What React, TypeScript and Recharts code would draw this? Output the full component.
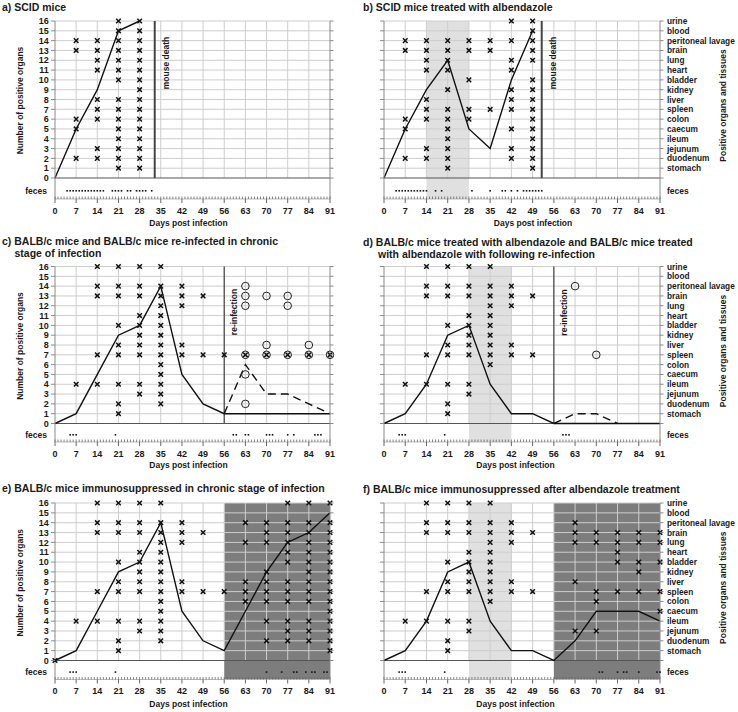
import React from 'react'
import { ComposedChart, Line, Scatter, XAxis, YAxis, ReferenceLine, ReferenceArea } from 'recharts'

const ORGANS = ['stomach', 'duodenum', 'jejunum', 'ileum', 'caecum', 'colon', 'spleen', 'liver', 'kidney', 'bladder', 'heart', 'lung', 'brain', 'peritoneal lavage', 'blood', 'urine']
const DAY_LABELS = [0, 7, 14, 21, 28, 35, 42, 49, 56, 63, 70, 77, 84, 91]
const Y_TICKS = [0, 1, 2, 3, 4, 5, 6, 7, 8, 9, 10, 11, 12, 13, 14, 15, 16]
const ALL_DAYS = Array.from({ length: 92 }, (_, i) => i)

// a) SCID mice
const A_LINE = [[0, 0], [7, 5], [14, 9], [21, 15], [28, 16]]
const A_CROSSES = [
  [7, [2, 5, 6, 13, 14]],
  [14, [2, 3, 6, 7, 8, 11, 12, 13, 14]],
  [21, [1, 2, 3, 4, 5, 6, 7, 8, 10, 11, 12, 13, 14, 15, 16]],
  [28, [1, 2, 3, 4, 5, 6, 7, 8, 9, 10, 11, 12, 13, 14, 15, 16]],
]
const A_FECES = [4, 5, 6, 7, 8, 9, 10, 11, 12, 13, 14, 15, 16, 19, 20, 21, 22, 24, 25, 27, 28, 29, 30, 32]
const A_DEATH = 33

// b) SCID mice treated with albendazole
const B_LINE = [[0, 0], [7, 5], [14, 9], [21, 12], [28, 5], [35, 3], [42, 10], [49, 15]]
const B_CROSSES = [
  [7, [2, 5, 6, 13, 14]],
  [14, [2, 3, 6, 7, 8, 11, 12, 13, 14]],
  [21, [1, 2, 3, 4, 5, 6, 7, 9, 11, 12, 13, 14]],
  [28, [6, 7, 10, 13, 14]],
  [35, [7, 13, 14]],
  [42, [2, 3, 5, 7, 8, 9, 11, 12, 14, 16]],
  [49, [1, 2, 3, 4, 5, 6, 7, 8, 9, 10, 12, 13, 14, 15, 16]],
]
const B_FECES = [4, 5, 6, 7, 8, 9, 10, 11, 12, 13, 14, 17, 19, 29, 35, 39, 40, 42, 44, 46, 47, 48, 49, 50, 51, 52]
const B_TREATMENT = [14, 28]
const B_DEATH = 52

// c) BALB/c and re-infected BALB/c
const C_LINE = [[0, 0], [7, 1], [14, 5], [21, 9], [28, 10], [35, 14], [42, 5], [49, 2], [56, 1], [91, 1]]
const C_REINF_LINE = [[56, 1], [63, 6], [70, 3], [77, 3], [84, 2], [91, 1]]
const C_CROSSES = [
  [7, [4]],
  [14, [4, 7, 13, 14, 16]],
  [21, [1, 2, 4, 7, 8, 10, 13, 14, 16]],
  [28, [3, 4, 7, 8, 9, 10, 11, 13, 14, 16]],
  [35, [2, 3, 4, 5, 6, 7, 8, 9, 10, 11, 12, 13, 14, 16]],
  [42, [7, 8, 12, 13, 14]],
  [49, [7, 13]],
  [56, [7]],
  [63, [7]],
  [70, [7]],
  [77, [7]],
  [84, [7]],
  [91, [7]],
]
const C_CIRCLES = [[63, [2, 5, 7, 12, 13, 14]], [70, [7, 8, 13]], [77, [7, 12, 13]], [84, [7, 8]], [91, [7]]]
const C_FECES = [5, 6, 7, 20, 59, 60, 63, 64, 70, 71, 72, 77, 79, 86, 87, 88]
const C_REINFECTION = 56

// d) albendazole, then re-infection
const D_LINE = [[0, 0], [7, 1], [14, 4], [21, 9], [28, 10], [35, 4], [42, 1], [49, 1], [56, 0], [91, 0]]
const D_REINF_LINE = [[56, 0], [63, 1], [70, 1], [77, 0]]
const D_CROSSES = [
  [7, [4]],
  [14, [4, 7, 13, 14, 16]],
  [21, [1, 2, 4, 7, 8, 10, 13, 14, 16]],
  [28, [3, 4, 7, 8, 9, 10, 11, 13, 14, 16]],
  [35, [6, 7, 8, 9, 10, 11, 12, 13, 14, 16]],
  [42, [7, 8, 12, 13, 14]],
  [49, [7, 13]],
]
const D_CIRCLES = [[63, [14]], [70, [7]]]
const D_FECES = [5, 6, 7, 20, 59, 60, 61]
const D_TREATMENT = [28, 42]
const D_REINFECTION = 56

// e) immunosuppressed in chronic stage
const E_LINE = [[0, 0], [7, 1], [14, 5], [21, 9], [28, 10], [35, 14], [42, 5], [49, 2], [56, 1], [63, 5], [70, 9], [77, 12], [84, 13], [91, 15]]
const E_CROSSES = [
  [0, [0]],
  [7, [4]],
  [14, [4, 7, 13, 14, 16]],
  [21, [1, 2, 4, 7, 8, 10, 13, 14, 16]],
  [28, [3, 4, 7, 8, 9, 10, 11, 13, 14, 16]],
  [35, [2, 3, 4, 5, 6, 7, 8, 9, 10, 11, 12, 13, 14, 16]],
  [42, [7, 8, 12, 13, 14]],
  [49, [7, 13]],
  [56, [7]],
  [63, [6, 7, 8, 12, 14]],
  [70, [2, 4, 6, 7, 8, 9, 12, 13, 14]],
  [77, [2, 3, 4, 6, 7, 8, 10, 11, 12, 13, 14, 16]],
  [84, [2, 3, 4, 6, 7, 8, 9, 10, 11, 12, 13, 14, 16]],
  [91, [1, 2, 3, 4, 5, 6, 7, 8, 9, 10, 11, 12, 13, 14, 16]],
]
const E_FECES = [5, 6, 7, 20, 70, 75, 79, 80, 83, 85, 86, 89, 90]
const E_SUPPRESSION = [56, 91]

// f) immunosuppressed after albendazole
const F_LINE = [[0, 0], [7, 1], [14, 4], [21, 9], [28, 10], [35, 4], [42, 1], [49, 1], [56, 0], [63, 2], [70, 5], [77, 5], [84, 5], [91, 4]]
const F_CROSSES = [
  [7, [4]],
  [14, [4, 7, 13, 14, 16]],
  [21, [1, 2, 4, 7, 8, 10, 13, 14, 16]],
  [28, [3, 4, 7, 8, 9, 10, 11, 13, 14, 16]],
  [35, [6, 7, 8, 9, 10, 11, 12, 13, 14, 16]],
  [42, [7, 8, 12, 13, 14]],
  [49, [7, 13]],
  [63, [3, 8, 12, 13, 14]],
  [70, [3, 6, 7, 12, 13]],
  [77, [7, 10, 11, 12, 13]],
  [84, [7, 9, 10, 12, 13]],
  [91, [5, 7, 10, 12, 13]],
]
const F_FECES = [5, 6, 7, 20, 71, 72, 77, 79, 80, 84, 90, 91]
const F_TREATMENT = [28, 42]
const F_SUPPRESSION = [56, 91]

// row geometry (page px): chart top, y of 16, y of 0, y of day axis, x-axis height
const ROW1 = { ctop: 0, top: 21, zero: 178, axis: 199, xh: 27 }
const ROW2 = { ctop: 235, top: 266.5, zero: 423.5, axis: 442, xh: 26 }
const ROW3 = { ctop: 470, top: 503, zero: 660.5, axis: 679.5, xh: 27 }

const FONT = "'Liberation Sans', Arial, Helvetica, sans-serif"
const INK = '#1a1a1a'
const GRID = '#cdcdcd'

function DayTick(props: any) {
  const { x, y, payload } = props
  const d = payload.value
  const major = DAY_LABELS.includes(d)
  return (
    <g>
      <line x1={x} x2={x} y1={y - 2.5} y2={y} stroke="#666" strokeWidth={0.8} />
      {major && <line x1={x} x2={x} y1={y} y2={y + 4} stroke="#666" />}
      {major && (
        <text x={x} y={y + 14.5} textAnchor="middle" fontSize={9} fontWeight={700} fill={INK}>
          {d}
        </text>
      )}
    </g>
  )
}

function LeftTick(props: any) {
  const { x, y, payload, showLabels } = props
  const v = payload.value
  if (v < 0) {
    return showLabels ? (
      <text x={x - 8} y={y + 3} textAnchor="end" fontSize={8.5} fontWeight={700} fill={INK}>feces</text>
    ) : <g />
  }
  return (
    <g>
      <line x1={x - 4} x2={x} y1={y} y2={y} stroke="#8a8a8a" />
      {showLabels && (
        <text x={x - 6.3} y={y + 3.2} textAnchor="end" fontSize={9} fontWeight={700} fill={INK}>{v}</text>
      )}
    </g>
  )
}

function RightTick(props: any) {
  const { x, y, payload, showLabels } = props
  const v = payload.value
  if (v < 0) {
    return showLabels ? (
      <text x={x + 7} y={y + 3} textAnchor="start" fontSize={8.5} fontWeight={700} fill={INK}>feces</text>
    ) : <g />
  }
  return (
    <g>
      <line x1={x} x2={x + 3.5} y1={y} y2={y} stroke="#8a8a8a" />
      {showLabels && v > 0 && (
        <text x={x + 7} y={y + 3} textAnchor="start" fontSize={8.3} fontWeight={700} fill={INK}>{ORGANS[v - 1]}</text>
      )}
    </g>
  )
}

function RotatedTitle(props: any) {
  const { viewBox, caption, ox, oy } = props
  if (!viewBox) return null
  const cx = viewBox.x + ox
  const cy = viewBox.y + oy
  return (
    <text x={cx} y={cy} transform={`rotate(-90 ${cx} ${cy})`} textAnchor="middle" dominantBaseline="central"
      fontSize={8.5} fontWeight={700} fill={INK}>
      {caption}
    </text>
  )
}

const Cross = (p: any) => (
  <path d={`M${p.cx - 2.3},${p.cy - 2.3}L${p.cx + 2.3},${p.cy + 2.3}M${p.cx + 2.3},${p.cy - 2.3}L${p.cx - 2.3},${p.cy + 2.3}`}
    stroke="#111" strokeWidth={1.5} fill="none" />
)
const Ring = (p: any) => <circle cx={p.cx} cy={p.cy} r={3.8} fill="none" stroke="#222" strokeWidth={1} />
const Dot = (p: any) => <rect x={p.cx - 0.8} y={p.cy - 0.8} width={1.6} height={1.6} fill="#111" />

const toXY = (arr: number[][]) => arr.map(([x, y]) => ({ x, y }))
const spread = (list: any[]) => list.flatMap(([d, os]: any) => os.map((o: number) => ({ x: d, y: o })))

function Panel(p: any) {
  const { row, side, left } = p
  const isLeft = side === 'left'
  const unit = (row.zero - row.top) / 16
  const yMin = -(row.axis - row.zero) / unit
  const fecesY = yMin * 0.61
  const height = row.axis - row.ctop + row.xh + 5
  const mainMid = (row.zero - row.top) / 2
  return (
    <div style={{ position: 'absolute', left, top: row.ctop }}>
      <ComposedChart width={369} height={height} margin={{ top: row.top - row.ctop, right: 0, bottom: 5, left: 0 }}>
        <XAxis type="number" dataKey="x" domain={[0, 91]} ticks={ALL_DAYS} interval={0} tickSize={0} tickMargin={0}
          height={row.xh} axisLine={{ stroke: '#bbb' }} tickLine={false} tick={<DayTick />}
          label={{ value: 'Days post infection', position: 'insideBottom', offset: 0, dx: p.labelDx, fontSize: 8.5, fontWeight: 700, fill: INK }} />
        <YAxis yAxisId="l" orientation="left" type="number" domain={[yMin, 16]} ticks={[fecesY, ...Y_TICKS]}
          interval={0} tickSize={0} tickMargin={0} tickLine={false} width={isLeft ? 55 : 15} axisLine={{ stroke: '#8a8a8a' }}
          tick={<LeftTick showLabels={isLeft} />}
          label={isLeft ? <RotatedTitle caption="Number of positive organs" ox={20} oy={mainMid + 1} /> : undefined} />
        <YAxis yAxisId="r" orientation="right" type="number" domain={[yMin, 16]} allowDataOverflow ticks={[fecesY, ...Y_TICKS]}
          interval={0} tickSize={0} tickMargin={0} tickLine={false} width={isLeft ? 39 : 78} axisLine={{ stroke: '#8a8a8a' }}
          tick={<RightTick showLabels={!isLeft} />}
          label={!isLeft ? <RotatedTitle caption="Positive organs and tissues" ox={63} oy={mainMid + 6} /> : undefined} />

        {p.light && <ReferenceArea yAxisId="l" x1={p.light[0]} x2={p.light[1]} fill="#e0e0e0" fillOpacity={1} stroke="none" />}
        {p.dark && <ReferenceArea yAxisId="l" x1={p.dark[0]} x2={p.dark[1]} fill="#7d7d7d" fillOpacity={1} stroke="none" />}

        {Y_TICKS.slice(1).map((k) => (
          <ReferenceLine key={'h' + k} yAxisId="l" y={k} stroke={GRID} strokeWidth={1} />
        ))}
        {DAY_LABELS.slice(1, -1).map((d) => (
          <ReferenceLine key={'v' + d} yAxisId="l" segment={[{ x: d, y: 0 }, { x: d, y: 16 }]} stroke={GRID} strokeWidth={1} />
        ))}
        <ReferenceLine yAxisId="l" y={0} stroke="#555" strokeWidth={1} />

        {p.event && (
          <ReferenceLine yAxisId="l" segment={[{ x: p.event.day, y: 0 }, { x: p.event.day, y: 16 }]} stroke="#444"
            strokeWidth={p.event.w}
            label={<RotatedTitle caption={p.event.text} ox={p.event.dx} oy={p.event.oy} />} />
        )}

        <Line yAxisId="l" data={toXY(p.line)} dataKey="y" stroke="#111" strokeWidth={1.4} dot={false} isAnimationActive={false} />
        {p.dashed && (
          <Line yAxisId="l" data={toXY(p.dashed)} dataKey="y" stroke="#111" strokeWidth={1.4} strokeDasharray="8 5"
            dot={false} isAnimationActive={false} />
        )}
        {p.circles && <Scatter yAxisId="l" data={spread(p.circles)} dataKey="y" shape={Ring} isAnimationActive={false} />}
        <Scatter yAxisId="l" data={spread(p.crosses)} dataKey="y" shape={Cross} isAnimationActive={false} />
        <Scatter yAxisId="l" data={p.feces.map((d: number) => ({ x: d, y: fecesY }))} dataKey="y" shape={Dot} isAnimationActive={false} />
      </ComposedChart>
    </div>
  )
}

const titleStyle: React.CSSProperties = {
  position: 'absolute',
  fontSize: 10.5,
  fontWeight: 700,
  lineHeight: '12.3px',
  color: INK,
  whiteSpace: 'nowrap',
}

export default function App() {
  return (
    <div style={{ position: 'absolute', left: 0, top: 0, width: 738, height: 712, background: '#fff', fontFamily: FONT, overflow: 'hidden' }}>
      <Panel row={ROW1} side="left" left={0} labelDx={-4} line={A_LINE} crosses={A_CROSSES} feces={A_FECES}
        event={{ day: A_DEATH, text: 'mouse death', w: 2, dx: 11.5, oy: 42 }} />
      <Panel row={ROW1} side="right" left={369} labelDx={11} line={B_LINE} crosses={B_CROSSES} feces={B_FECES}
        light={B_TREATMENT} event={{ day: B_DEATH, text: 'mouse death', w: 2, dx: 11, oy: 42 }} />
      <Panel row={ROW2} side="left" left={0} labelDx={-4} line={C_LINE} dashed={C_REINF_LINE} crosses={C_CROSSES}
        circles={C_CIRCLES} feces={C_FECES} event={{ day: C_REINFECTION, text: 're-infection', w: 1.2, dx: 9.5, oy: 45.5 }} />
      <Panel row={ROW2} side="right" left={369} labelDx={-6.5} line={D_LINE} dashed={D_REINF_LINE} crosses={D_CROSSES}
        circles={D_CIRCLES} feces={D_FECES} light={D_TREATMENT}
        event={{ day: D_REINFECTION, text: 're-infection', w: 1.2, dx: 10, oy: 46 }} />
      <Panel row={ROW3} side="left" left={0} labelDx={-4} line={E_LINE} crosses={E_CROSSES} feces={E_FECES} dark={E_SUPPRESSION} />
      <Panel row={ROW3} side="right" left={369} labelDx={-6.5} line={F_LINE} crosses={F_CROSSES} feces={F_FECES}
        light={F_TREATMENT} dark={F_SUPPRESSION} />

      <div style={{ ...titleStyle, left: 2, top: 1 }}>a) SCID mice</div>
      <div style={{ ...titleStyle, left: 363, top: 1 }}>b) SCID mice treated with albendazole</div>
      <div style={{ ...titleStyle, left: 2, top: 235 }}>
        <div>c) BALB/c mice and BALB/c mice re-infected in chronic</div>
        <div style={{ marginLeft: 12.5 }}>stage of infection</div>
      </div>
      <div style={{ ...titleStyle, left: 363, top: 236 }}>
        <div>d) BALB/c mice treated with albendazole and BALB/c mice treated</div>
        <div style={{ marginLeft: 15 }}>with albendazole with following re-infection</div>
      </div>
      <div style={{ ...titleStyle, left: 2, top: 482 }}>e) BALB/c mice immunosuppressed in chronic stage of infection</div>
      <div style={{ ...titleStyle, left: 363, top: 483 }}>f) BALB/c mice immunosuppressed after albendazole treatment</div>
    </div>
  )
}
